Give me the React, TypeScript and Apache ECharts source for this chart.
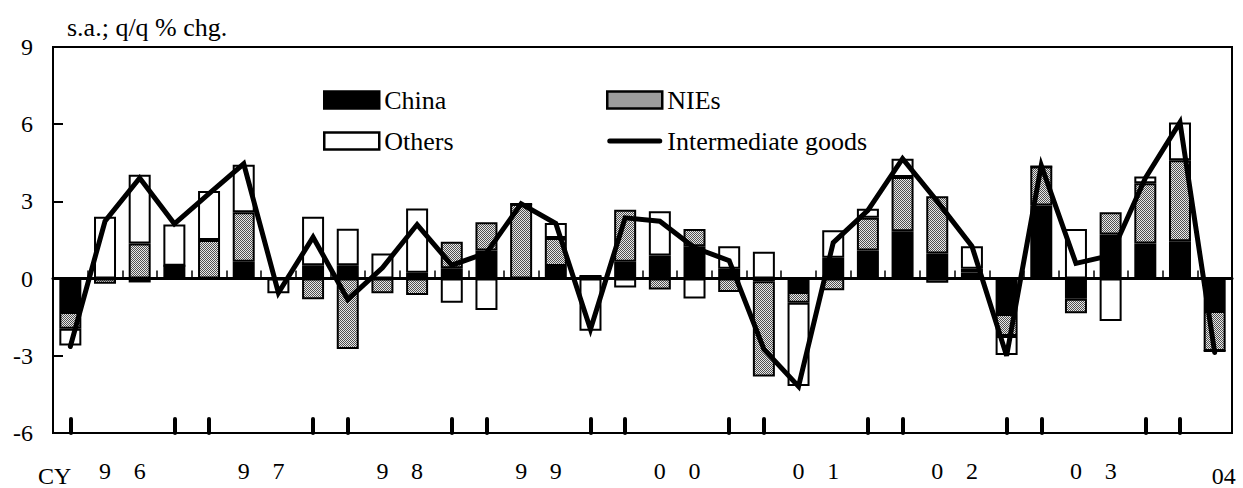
import React, { useEffect, useRef } from 'react';
import * as echarts from 'echarts';

const quarters = [
  '96Q1', '96Q2', '96Q3', '96Q4', '97Q1', '97Q2', '97Q3', '97Q4',
  '98Q1', '98Q2', '98Q3', '98Q4', '99Q1', '99Q2', '99Q3', '99Q4',
  '00Q1', '00Q2', '00Q3', '00Q4', '01Q1', '01Q2', '01Q3', '01Q4',
  '02Q1', '02Q2', '02Q3', '02Q4', '03Q1', '03Q2', '03Q3', '03Q4',
  '04Q1', '04Q2',
];

const china = [
  -1.3, 0, -0.15, 0.5, 0, 0.65, 0, 0.52,
  0.52, 0, 0.23, 0.4, 1.09, 0, 0.49, 0.1,
  0.65, 0.9, 1.26, 0.38, -0.1, -0.52, 0.81, 1.09,
  1.84, 0.98, 0.23, -1.38, 2.84, -0.78, 1.71, 1.36,
  1.45, -1.26,
];

const nies = [
  -0.65, -0.2, 1.36, 0, 1.5, 1.93, 0, -0.8,
  -2.74, -0.57, -0.64, 1.03, 1.1, 2.9, 1.09, 0,
  2.03, -0.42, 0.67, -0.52, -3.7, -0.42, -0.45, 1.27,
  2.11, 2.22, 0.15, -0.85, 1.52, -0.57, 0.87, 2.35,
  3.15, -1.55,
];

const others = [
  -0.65, 2.4, 2.68, 1.6, 1.9, 1.84, -0.57, 1.88,
  1.42, 0.98, 2.49, -0.94, -1.22, 0, 0.58, -2.03,
  -0.35, 1.72, -0.77, 0.88, 1.04, -3.23, 1.07, 0.35,
  0.71, -0.16, 0.88, -0.74, 0, 1.93, -1.65, 0.26,
  1.47, 0,
];

const intermediateGoods = [
  -2.64, 2.23, 3.91, 2.13, 3.3, 4.46, -0.55, 1.61,
  -0.81, 0.42, 2.1, 0.52, 1.0, 2.91, 2.14, -1.97,
  2.36, 2.23, 1.2, 0.7, -2.74, -4.19, 1.4, 2.65,
  4.66, 3.0, 1.26, -3.0, 4.4, 0.59, 0.9, 3.9,
  6.07, -2.87,
];

// Year digits written under the 2nd and 3rd quarter of each year, as in the original
const xTickLabels = [
  '', '9', '6', '', '', '9', '7', '',
  '', '9', '8', '', '', '9', '9', '',
  '', '0', '0', '', '', '0', '1', '',
  '', '0', '2', '', '', '0', '3', '',
  '', '04',
];

// thick ticks at the last and first quarter of every year
const yearBoundaryTicks = [0, 3, 4, 7, 8, 11, 12, 15, 16, 19, 20, 23, 24, 27, 28, 31, 32];

const yMin = -6;
const yMax = 9;
const yInterval = 3;

const titleText = 's.a.; q/q % chg.';
const xAxisTitle = 'CY';

const FONT = '"Liberation Serif", "Times New Roman", Times, serif';

function makePattern(): HTMLCanvasElement {
  const c = document.createElement('canvas');
  c.width = 2;
  c.height = 2;
  const ctx = c.getContext('2d') as CanvasRenderingContext2D;
  ctx.fillStyle = '#e8e8e8';
  ctx.fillRect(0, 0, 2, 2);
  ctx.fillStyle = '#505050';
  ctx.fillRect(0, 0, 1, 1);
  ctx.fillRect(1, 1, 1, 1);
  return c;
}

const LINE_ICON = 'path://M2.5,0 H52.5 A2.5,2.5 0 0 1 52.5,5 H2.5 A2.5,2.5 0 0 1 2.5,0 Z';

export default function App() {
  const ref = useRef<HTMLDivElement>(null);

  useEffect(() => {
    if (!ref.current) return;
    const chart = echarts.init(ref.current, undefined, { renderer: 'svg' });
    const pattern = { image: makePattern(), repeat: 'repeat' };
    const lastIdx = xTickLabels.length - 1;

    const barBase = {
      type: 'bar',
      stack: 'total',
      barWidth: 22,
      xAxisIndex: 0,
      yAxisIndex: 0,
    };

    const legendText = { color: '#000', fontSize: 26, fontFamily: FONT, lineHeight: 26 };
    const legendCommon = {
      top: 87,
      orient: 'vertical',
      padding: 0,
      itemWidth: 55,
      itemHeight: 17,
      itemGap: 15,
      symbolKeepAspect: true,
      textStyle: legendText,
    };

    const option: any = {
      animation: false,
      backgroundColor: '#fff',
      grid: {
        left: 53,
        right: 11,
        top: 47,
        bottom: 54,
        show: true,
        borderColor: '#000',
        borderWidth: 2,
        containLabel: false,
      },
      legend: [
        {
          ...legendCommon,
          left: 323,
          data: [
            { name: 'China', icon: 'rect', itemStyle: { borderWidth: 2.5 } },
            { name: 'Others', icon: 'rect', itemStyle: { borderWidth: 2.5 } },
          ],
        },
        {
          ...legendCommon,
          left: 606,
          data: [
            { name: 'NIEs', icon: 'rect', itemStyle: { borderWidth: 2.5 } },
            { name: 'Intermediate goods', icon: LINE_ICON, itemStyle: { color: '#000', borderWidth: 0 } },
          ],
        },
      ],
      xAxis: [
        {
          type: 'category',
          data: quarters,
          position: 'bottom',
          axisLine: { onZero: false, lineStyle: { color: '#000', width: 2 } },
          axisTick: {
            show: true,
            inside: true,
            length: 14,
            alignWithLabel: true,
            interval: (i: number) => yearBoundaryTicks.indexOf(i) >= 0,
            lineStyle: { color: '#000', width: 4, cap: 'round' },
          },
          axisLabel: {
            interval: 0,
            margin: 26,
            color: '#000',
            fontSize: 24,
            fontFamily: FONT,
            formatter: (_v: string, i: number) =>
              i === lastIdx ? `{r|${xTickLabels[i]}}` : xTickLabels[i],
            rich: {
              r: { fontSize: 24, fontFamily: FONT, color: '#000', padding: [5, 0, 0, 18] },
            },
          },
          splitLine: { show: false },
        },
        {
          type: 'category',
          data: quarters,
          position: 'top',
          axisLine: { show: true, onZero: true, lineStyle: { color: '#000', width: 3 } },
          axisTick: {
            show: true,
            inside: false,
            length: 8,
            interval: 0,
            lineStyle: { color: '#000', width: 1.5 },
          },
          axisLabel: { show: false },
          splitLine: { show: false },
        },
      ],
      yAxis: {
        type: 'value',
        min: yMin,
        max: yMax,
        interval: yInterval,
        axisLine: { show: true, onZero: false, lineStyle: { color: '#000', width: 2 } },
        axisTick: { show: true, inside: true, length: 10, lineStyle: { color: '#000', width: 2 } },
        axisLabel: { color: '#000', fontSize: 24, fontFamily: FONT, margin: 20 },
        splitLine: { show: false },
      },
      series: [
        {
          ...barBase,
          name: 'China',
          data: china,
          itemStyle: { color: '#000', borderColor: '#000', borderWidth: 2 },
        },
        {
          ...barBase,
          name: 'NIEs',
          data: nies,
          itemStyle: { color: pattern, borderColor: '#000', borderWidth: 2 },
        },
        {
          ...barBase,
          name: 'Others',
          data: others,
          itemStyle: { color: '#fff', borderColor: '#000', borderWidth: 2 },
        },
        {
          type: 'line',
          name: 'Intermediate goods',
          data: intermediateGoods,
          xAxisIndex: 0,
          yAxisIndex: 0,
          symbol: 'none',
          z: 5,
          itemStyle: { color: '#000' },
          lineStyle: { color: '#000', width: 5, join: 'miter', cap: 'round' },
        },
      ],
      graphic: [
        {
          type: 'text',
          left: 67,
          top: 14,
          style: { text: titleText, fill: '#000', font: `26px ${FONT}` },
        },
        {
          type: 'text',
          left: 38,
          top: 464,
          style: { text: xAxisTitle, fill: '#000', font: `24px ${FONT}` },
        },
      ],
    };

    chart.setOption(option);
    return () => {
      chart.dispose();
    };
  }, []);

  return (
    <div
      ref={ref}
      style={{ position: 'fixed', left: 0, top: 0, width: 1243, height: 488, background: '#fff' }}
    />
  );
}
